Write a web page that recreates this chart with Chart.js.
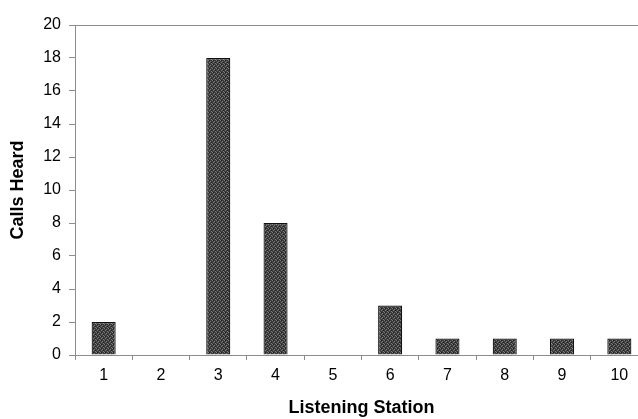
<!DOCTYPE html>
<html>
<head>
<meta charset="utf-8">
<script src="https://cdn.jsdelivr.net/npm/chart.js@4"></script>
<style>
html,body{margin:0;padding:0;background:#fff;overflow:hidden;}
#wrap{width:648px;height:419px;position:relative;}
</style>
</head>
<body>
<div id="wrap"><canvas id="c"></canvas></div>
<script>
const stations = ['1','2','3','4','5','6','7','8','9','10'];
const callsHeard = [2,0,18,8,0,3,1,1,1,1];
const yTicks = [0,2,4,6,8,10,12,14,16,18,20];

function makePattern(){
  const p = document.createElement('canvas');
  p.width = 4; p.height = 4;
  const g = p.getContext('2d');
  g.fillStyle = '#3c3c3c'; g.fillRect(0,0,4,4);
  g.fillStyle = '#7c7c7c';
  g.fillRect(0,0,1,1); g.fillRect(2,1,1,1); g.fillRect(1,2,1,1); g.fillRect(3,3,1,1);
  g.fillStyle = '#1e1e1e';
  g.fillRect(1,0,1,1); g.fillRect(3,2,1,1);
  return g.createPattern(p,'repeat');
}

const gray = '#8c8c8c';
new Chart(document.getElementById('c'), {
  type: 'bar',
  data: {
    labels: stations,
    datasets: [{
      data: callsHeard,
      backgroundColor: makePattern(),
      borderColor: '#111',
      borderWidth: 1.2,
      categoryPercentage: 1,
      barPercentage: 0.42
    }]
  },
  options: {
    responsive: true,
    maintainAspectRatio: false,
    animation: false,
    layout: { padding: { top: 25, left: 0, right: 0, bottom: 0 } },
    plugins: { legend: { display: false }, tooltip: { enabled: false } },
    scales: {
      x: {
        offset: true,
        grid: { offset: true, drawOnChartArea: false, tickLength: 5, tickColor: gray },
        border: { display: true, color: gray, width: 1 },
        ticks: { color: '#000', font: { family: 'Liberation Sans, Arial', size: 16 }, padding: 6, maxRotation: 0 },
        title: { display: true, text: 'Listening Station', color: '#000',
                 font: { family: 'Liberation Sans, Arial', size: 18, weight: 'bold' }, padding: { top: 0, bottom: 0 } },
        afterFit: s => { s.height = 64; }
      },
      y: {
        min: 0, max: 20,
        afterBuildTicks: s => { s.ticks = yTicks.map(v => ({ value: v })); },
        grid: { drawOnChartArea: true, tickLength: 6, tickColor: gray,
                color: ctx => (ctx.tick && ctx.tick.value === 20) ? gray : 'rgba(0,0,0,0)' },
        border: { display: true, color: gray, width: 1 },
        ticks: { color: '#000', font: { family: 'Liberation Sans, Arial', size: 16 }, padding: 8 },
        title: { display: true, text: 'Calls Heard', color: '#000',
                 font: { family: 'Liberation Sans, Arial', size: 18, weight: 'bold' }, padding: { top: 7, bottom: 0 } },
        afterFit: s => { s.width = 75; }
      }
    }
  }
});
</script>
</body>
</html>
